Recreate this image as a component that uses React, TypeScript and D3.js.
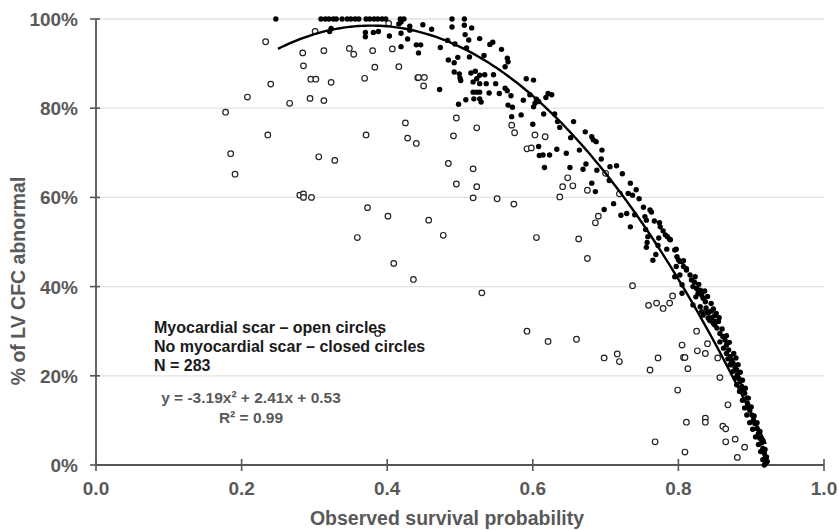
import React from "react";
import * as d3 from "d3";

const xTicks = [0, 0.2, 0.4, 0.6, 0.8, 1.0];
const yTicks = [0, 0.2, 0.4, 0.6, 0.8, 1.0];
const fitCoef = [-3.19, 2.41, 0.53];
const fitRange = [0.25, 0.92];
const legendLines = ["Myocardial scar \u2013 open circles", "No myocardial scar \u2013 closed circles", "N = 283"];
const eqText = "y = -3.19x\u00B2 + 2.41x + 0.53";
const r2Text = "R\u00B2 = 0.99";

const topRowX = [0.247, 0.309, 0.315, 0.320, 0.326, 0.330, 0.338, 0.345, 0.350, 0.356, 0.361, 0.371, 0.376, 0.382, 0.387, 0.393, 0.398, 0.418, 0.423, 0.489, 0.506];

const closedUpper: [number, number][] = [
  [0.321,0.972],[0.323,0.979],[0.370,0.970],[0.370,0.960],[0.381,0.970],[0.388,0.972],[0.403,0.962],[0.419,0.968],[0.416,0.989],[0.419,0.993],[0.428,0.955],[0.419,0.938],[0.431,0.984],[0.431,0.975],[0.440,0.942],[0.446,0.942],[0.443,0.924],[0.449,0.987],[0.461,0.977],[0.473,0.936],[0.472,0.842],[0.483,0.952],[0.489,0.982],[0.506,0.986],[0.516,0.980],[0.507,0.965],[0.512,0.953],[0.527,0.956],[0.493,0.944],[0.509,0.935],[0.541,0.943],[0.545,0.948],[0.533,0.918],[0.513,0.915],[0.484,0.908],[0.492,0.902],[0.497,0.914],[0.492,0.881],[0.499,0.877],[0.500,0.868],[0.501,0.862],[0.515,0.879],[0.521,0.883],[0.523,0.866],[0.527,0.874],[0.534,0.875],[0.518,0.859],[0.527,0.855],[0.536,0.855],[0.540,0.834],[0.546,0.875],[0.549,0.855],[0.518,0.836],[0.523,0.836],[0.527,0.836],[0.519,0.821],[0.527,0.821],[0.529,0.814],[0.498,0.809],[0.508,0.819],[0.554,0.833]
];

const closedMiddle: [number, number][] = [
  [0.557,0.932],[0.565,0.912],[0.566,0.904],[0.562,0.893],[0.562,0.845],[0.565,0.839],[0.570,0.828],[0.566,0.807],[0.572,0.802],[0.571,0.781],[0.584,0.785],[0.591,0.866],[0.601,0.863],[0.587,0.818],[0.596,0.830],[0.605,0.820],[0.601,0.803],[0.603,0.811],[0.608,0.815],[0.618,0.824],[0.621,0.833],[0.626,0.830],[0.615,0.787],[0.600,0.764],[0.608,0.714],[0.609,0.694],[0.614,0.695],[0.623,0.695],[0.633,0.708],[0.616,0.667],[0.630,0.787],[0.634,0.770],[0.637,0.757],[0.646,0.699],[0.652,0.734],[0.656,0.770],[0.664,0.706],[0.672,0.747],[0.681,0.736],[0.683,0.729],[0.687,0.725],[0.651,0.667],[0.669,0.663],[0.673,0.675],[0.681,0.632],[0.686,0.613],[0.688,0.661],[0.695,0.706],[0.694,0.686],[0.706,0.669],[0.715,0.671],[0.705,0.638],[0.723,0.653],[0.698,0.573],[0.711,0.586],[0.721,0.560],[0.729,0.564],[0.734,0.632],[0.731,0.609],[0.737,0.605],[0.742,0.617],[0.746,0.597],[0.734,0.534],[0.740,0.561],[0.752,0.578],[0.754,0.557],[0.756,0.549],[0.761,0.572],[0.763,0.567],[0.755,0.528],[0.758,0.512],[0.757,0.499],[0.756,0.488],[0.765,0.459],[0.767,0.547],[0.774,0.543],[0.775,0.534],[0.779,0.525],[0.782,0.516],[0.785,0.512],[0.773,0.509],[0.772,0.492],[0.769,0.472],[0.784,0.484],[0.788,0.506],[0.797,0.484],[0.798,0.467],[0.802,0.456],[0.807,0.458],[0.811,0.440],[0.789,0.505]
];

const closedLower: [number, number][] = [
  [0.795,0.482],[0.800,0.460],[0.805,0.456],[0.797,0.445],[0.807,0.445],[0.811,0.437],[0.816,0.426],[0.818,0.415],[0.823,0.422],[0.795,0.422],[0.805,0.404],[0.802,0.426],[0.805,0.385],
  [0.820,0.400],[0.825,0.396],[0.830,0.392],[0.827,0.385],[0.832,0.381],[0.834,0.374],[0.837,0.366],[0.824,0.377],[0.820,0.359],[0.830,0.355],[0.839,0.344],[0.841,0.340],[0.832,0.344],[0.834,0.336],[0.841,0.329],[0.843,0.325],[0.848,0.318],[0.850,0.314],[0.853,0.307],[0.857,0.295],[0.861,0.288],[0.864,0.280],[0.857,0.276],[0.866,0.269],[0.869,0.258],
  [0.822,0.410],[0.828,0.405],[0.836,0.390],[0.840,0.378],[0.845,0.362],[0.838,0.352],[0.848,0.350],[0.852,0.340],[0.856,0.330],[0.846,0.330],[0.851,0.322],
  [0.871,0.243],[0.873,0.235],[0.875,0.228],[0.878,0.220],[0.880,0.213],[0.881,0.202],[0.883,0.194],[0.885,0.187],[0.887,0.176],[0.889,0.168],[0.891,0.161],[0.894,0.150],[0.895,0.138],[0.896,0.131],[0.898,0.123],[0.901,0.112],[0.903,0.101],[0.905,0.093],[0.908,0.082],[0.910,0.071],[0.912,0.060],[0.914,0.049],[0.916,0.037],[0.918,0.026],[0.919,0.015],[0.920,0.004],
  [0.876,0.250],[0.879,0.240],[0.882,0.225],[0.885,0.208],[0.888,0.190],[0.892,0.172],[0.896,0.150],[0.900,0.130],[0.904,0.110],[0.908,0.095],[0.912,0.075],[0.916,0.055],[0.919,0.035],[0.921,0.018],[0.922,0.008],[0.845,0.345],[0.850,0.335],[0.855,0.322],[0.860,0.305],[0.866,0.290],[0.870,0.275],
  [0.862,0.262],[0.866,0.250],[0.868,0.238],[0.871,0.225],[0.875,0.210],[0.878,0.195],[0.880,0.180],[0.884,0.165],[0.888,0.145],[0.891,0.128],[0.894,0.112],[0.898,0.095],[0.902,0.080],[0.906,0.063],[0.910,0.046],[0.913,0.030],[0.916,0.012],[0.918,0.000]
];

const openPoints: [number, number][] = [
  [0.178,0.791],[0.233,0.949],[0.240,0.854],[0.208,0.825],[0.236,0.740],[0.185,0.698],[0.191,0.652],[0.266,0.811],[0.284,0.924],[0.285,0.895],[0.295,0.865],[0.302,0.865],[0.294,0.822],[0.301,0.972],[0.313,0.929],[0.313,0.817],[0.323,0.858],[0.306,0.691],[0.328,0.683],[0.280,0.605],[0.285,0.608],[0.285,0.600],[0.296,0.600],[0.348,0.934],[0.354,0.921],[0.369,0.867],[0.371,0.740],[0.373,0.577],[0.359,0.510],[0.380,0.929],[0.383,0.892],[0.401,0.558],[0.407,0.933],[0.416,0.893],[0.425,0.767],[0.428,0.733],[0.440,0.721],[0.442,0.868],[0.409,0.452],[0.402,0.990],[0.443,0.869],[0.451,0.869],[0.450,0.850],[0.495,0.778],[0.523,0.756],[0.491,0.738],[0.484,0.676],[0.518,0.664],[0.495,0.630],[0.523,0.624],[0.518,0.599],[0.551,0.597],[0.457,0.549],[0.477,0.515],[0.605,0.510],[0.663,0.507],[0.675,0.463],[0.574,0.585],[0.571,0.762],[0.575,0.745],[0.603,0.740],[0.617,0.736],[0.592,0.709],[0.598,0.711],[0.648,0.644],[0.641,0.624],[0.655,0.626],[0.637,0.601],[0.675,0.616],[0.690,0.558],[0.686,0.543],[0.700,0.654],[0.719,0.608],[0.436,0.416],[0.387,0.295],[0.530,0.386],[0.592,0.300],[0.621,0.277],[0.660,0.282],[0.698,0.240],[0.716,0.249],[0.719,0.232],[0.737,0.402],[0.759,0.358],[0.770,0.363],[0.779,0.351],[0.788,0.363],[0.792,0.379],[0.772,0.240],[0.761,0.213],[0.768,0.052],[0.799,0.168],[0.811,0.096],[0.809,0.029],[0.805,0.269],[0.807,0.241],[0.809,0.241],[0.813,0.216],[0.825,0.300],[0.826,0.256],[0.837,0.250],[0.840,0.272],[0.837,0.105],[0.837,0.096],[0.854,0.240],[0.857,0.196],[0.868,0.135],[0.861,0.087],[0.865,0.081],[0.865,0.052],[0.878,0.058],[0.891,0.040],[0.881,0.017],[0.844,0.325],[0.874,0.226]
];

const W = 839;
const H = 530;
const M = { left: 96, right: 15, top: 19, bottom: 65 };

export default function App() {
  const x = d3.scaleLinear().domain([0, 1]).range([M.left, W - M.right]);
  const y = d3.scaleLinear().domain([0, 1]).range([H - M.bottom, M.top]);
  const closed: [number, number][] = [
    ...topRowX.map((v) => [v, 1.0] as [number, number]),
    ...closedUpper,
    ...closedMiddle,
    ...closedLower,
  ];
  const fit = (t: number) => fitCoef[0] * t * t + fitCoef[1] * t + fitCoef[2];
  const curveXs = d3.range(fitRange[0], fitRange[1] + 1e-9, 0.005);
  const line = d3
    .line<number>()
    .x((t) => x(t))
    .y((t) => y(fit(t)))
    .curve(d3.curveLinear);
  const gray = "#595959";
  const font = "'Liberation Sans', Arial, sans-serif";
  const x0 = x(0), x1 = x(1), y0 = y(0), y1 = y(1);
  return (
    <svg width={W} height={H} style={{ position: "absolute", left: 0, top: 0, background: "#fff" }} fontFamily={font}>
      {yTicks.filter((t) => t > 0).map((t) => (
        <line key={"g" + t} x1={x0} x2={x1} y1={y(t)} y2={y(t)} stroke="#e2e2e2" strokeWidth={1.3} />
      ))}
      <line x1={x0} x2={x0} y1={y1} y2={y0} stroke="#555" strokeWidth={1.8} />
      <line x1={x0} x2={x1} y1={y0} y2={y0} stroke="#555" strokeWidth={1.8} />
      {yTicks.map((t) => (
        <g key={"yt" + t}>
          <line x1={x0 - 6} x2={x0 + 4} y1={y(t)} y2={y(t)} stroke="#555" strokeWidth={1.6} />
          <text x={x0 - 18} y={y(t) + 7} textAnchor="end" fontSize={19} fontWeight="bold" fill={gray}>
            {d3.format(".0%")(t)}
          </text>
        </g>
      ))}
      {xTicks.map((t) => (
        <g key={"xt" + t}>
          <line x1={x(t)} x2={x(t)} y1={y0 - 6} y2={y0 + 6} stroke="#555" strokeWidth={1.6} />
          <text x={x(t)} y={y0 + 30} textAnchor="middle" fontSize={19} fontWeight="bold" fill={gray}>
            {d3.format(".1f")(t)}
          </text>
        </g>
      ))}
      <text x={447} y={525} textAnchor="middle" fontSize={19.5} fontWeight="bold" fill={gray}>
        Observed survival probability
      </text>
      <text transform={`translate(25,281) rotate(-90)`} textAnchor="middle" fontSize={19.5} fontWeight="bold" fill={gray}>
        % of LV CFC abnormal
      </text>
      {openPoints.map((p, i) => (
        <circle key={"o" + i} cx={x(p[0])} cy={y(p[1])} r={2.8} fill="#fff" stroke="#222" strokeWidth={1.2} />
      ))}
      {closed.map((p, i) => (
        <circle key={"c" + i} cx={x(p[0])} cy={y(p[1])} r={2.7} fill="#000" />
      ))}
      <path d={line(curveXs) || ""} fill="none" stroke="#000" strokeWidth={2.4} />
      {legendLines.map((s, i) => (
        <text key={"l" + i} x={154} y={333 + i * 19} fontSize={16} fontWeight="bold" fill="#1a1a1a">
          {s}
        </text>
      ))}
      <text x={251} y={403} textAnchor="middle" fontSize={15.5} fontWeight="bold" fill={gray}>
        {eqText}
      </text>
      <text x={251} y={423} textAnchor="middle" fontSize={15.5} fontWeight="bold" fill={gray}>
        {r2Text}
      </text>
    </svg>
  );
}
